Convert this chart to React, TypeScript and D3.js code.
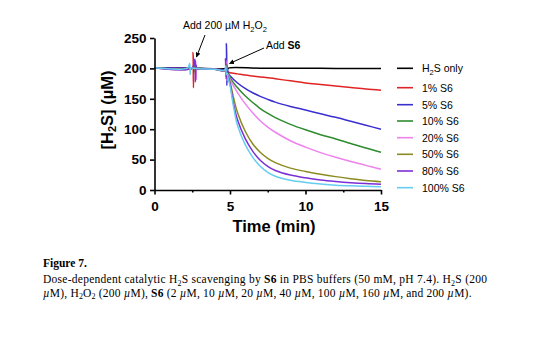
import React, { useRef, useEffect } from 'react';
import * as d3 from 'd3';

type Pt = [number, number];

const W = 554;
const H = 339;

// ---- data (time in min, [H2S] in µM) ----
const h2sOnly: Pt[] = [[0, 201], [2.5, 200.5], [4.8, 200.5], [4.82, 203], [4.85, 199], [4.9, 200.5], [7, 200.3], [10, 200.2], [12, 200], [15, 200]];
const s1: Pt[] = [[0, 201], [2, 200.5], [2.5, 200.5], [2.55, 226], [2.58, 168], [2.62, 212], [2.66, 199], [3, 199.5], [4, 198.5], [4.6, 197], [4.75, 196], [4.8, 205], [4.84, 188], [4.9, 194], [5, 193], [5.5, 191], [6, 189], [6.5, 187.5], [7, 186], [7.5, 184.5], [8, 183], [9, 179.5], [10, 176], [11, 173.5], [12, 171], [13, 168.5], [14, 166], [15, 164]];
const s5: Pt[] = [[0, 201], [2, 200.5], [2.5, 200.3], [2.6, 205], [2.63, 195], [2.7, 200], [3, 199.5], [4, 198.5], [4.6, 197], [4.72, 196], [4.76, 241], [4.79, 172], [4.83, 200], [4.88, 192], [5, 188], [5.5, 176], [6, 167], [6.5, 160], [7, 154], [7.5, 149], [8, 144.5], [9, 137.5], [10, 131.5], [11, 125.5], [12, 119.5], [13, 113], [14, 106.5], [15, 100]];
const s10: Pt[] = [[0, 201], [2.5, 200.3], [2.62, 204], [2.66, 196], [2.7, 200], [3, 199.5], [4, 198.5], [4.7, 196.5], [4.78, 208], [4.82, 185], [4.88, 192], [5, 185], [5.5, 168], [6, 155], [6.5, 144], [7, 134], [7.5, 126], [8, 119], [9, 108], [10, 99], [11, 91], [12, 84], [13, 76.5], [14, 69], [15, 62]];
const s20: Pt[] = [[0, 201], [2.5, 200.3], [2.72, 212], [2.76, 182], [2.8, 200], [3, 199.5], [4, 198.5], [4.7, 196.5], [4.76, 212], [4.8, 180], [4.87, 190], [5, 182], [5.5, 160], [6, 142], [6.5, 127], [7, 114], [7.5, 103.5], [8, 95], [9, 81], [10, 70.5], [11, 61.5], [12, 54], [13, 47], [14, 40.5], [15, 34]];
const s50: Pt[] = [[0, 201], [2.5, 200.3], [2.65, 206], [2.68, 193], [2.72, 200], [3, 199.5], [4, 198.5], [4.7, 196.5], [4.77, 206], [4.81, 184], [4.86, 188], [5, 178], [5.25, 150], [5.5, 127], [6, 97], [6.5, 76], [7, 62], [7.5, 52], [8, 45], [9, 36], [10, 30.5], [11, 26], [12, 22], [13, 18.5], [14, 15.5], [15, 13.5]];
const s80: Pt[] = [[0, 201], [2.5, 200.3], [2.68, 215], [2.71, 178], [2.75, 205], [2.8, 200], [3, 199.5], [4, 198.5], [4.65, 197], [4.7, 216], [4.74, 183], [4.8, 196], [4.86, 186], [5, 175], [5.25, 140], [5.5, 115], [6, 85], [6.5, 64], [7, 49], [7.5, 39], [8, 32], [9, 24.5], [10, 20], [11, 16.5], [12, 14], [13, 12], [14, 10.5], [15, 9.5]];
const s100: Pt[] = [[0, 201], [2.2, 201], [2.33, 208], [2.36, 190], [2.4, 201], [2.5, 200.5], [3, 199.5], [4, 198.5], [4.65, 197], [4.72, 204], [4.76, 190], [4.82, 192], [4.86, 185], [5, 172], [5.25, 135], [5.5, 106], [6, 75], [6.5, 54], [7, 39], [7.5, 29], [8, 22.5], [9, 16], [10, 12.5], [11, 10], [12, 8], [13, 6.8], [14, 6], [15, 5.5]];

const seriesData: Pt[][] = [h2sOnly, s1, s5, s10, s20, s50, s80, s100];
const legendLabels = ['H2S only', '1% S6', '5% S6', '10% S6', '20% S6', '50% S6', '80% S6', '100% S6'];
const colors = ['#000000', '#e02424', '#3a2fcf', '#2e8b2e', '#ee82ee', '#8b8b22', '#7b2fd6', '#66ccf0'];

const xTicks = [0, 5, 10, 15];
const xMinorTicks = [2.5, 7.5, 12.5];
const yTicks = [0, 50, 100, 150, 200, 250];

const x = d3.scaleLinear().domain([0, 15]).range([154.5, 381]);
const y = d3.scaleLinear().domain([0, 250]).range([190, 38]);

const line = d3.line<Pt>().x(d => x(d[0])).y(d => y(d[1])).curve(d3.curveCatmullRom.alpha(0.5));

const legendY = [68.3, 87.7, 104.7, 121, 137.7, 154.3, 171, 187.7];

export default function App() {
  const xAxisRef = useRef<SVGGElement>(null);
  const xMinorRef = useRef<SVGGElement>(null);
  const yAxisRef = useRef<SVGGElement>(null);

  useEffect(() => {
    const style = (g: any) => {
      g.attr('font-family', 'Liberation Sans, Arial, sans-serif')
        .attr('font-size', 13.5)
        .attr('font-weight', 'bold');
      g.selectAll('path.domain').attr('stroke-width', 1.6).attr('stroke', '#000');
      g.selectAll('line').attr('stroke-width', 1.6).attr('stroke', '#000');
      g.selectAll('text').attr('fill', '#000');
    };
    const gx = d3.select(xAxisRef.current!);
    gx.call(d3.axisBottom(x).tickValues(xTicks).tickSize(4.5).tickPadding(7).tickSizeOuter(0).tickFormat(d3.format('d')) as any);
    style(gx);
    const gm = d3.select(xMinorRef.current!);
    gm.call(d3.axisBottom(x).tickValues(xMinorTicks).tickSize(2.5).tickFormat(() => '') as any);
    gm.select('path.domain').remove();
    style(gm);
    const gy = d3.select(yAxisRef.current!);
    gy.call(d3.axisLeft(y).tickValues(yTicks).tickSize(4.5).tickPadding(3.5).tickSizeOuter(0).tickFormat(d3.format('d')) as any);
    style(gy);
  }, []);

  const sans = 'Liberation Sans, Arial, sans-serif';
  const serif = 'Liberation Serif, Times New Roman, serif';

  return (
    <svg width={W} height={H} style={{ position: 'absolute', left: 0, top: 0, background: '#fff' }}>
      <defs>
        <marker id="arr" viewBox="0 0 10 10" refX="9" refY="5" markerWidth="5" markerHeight="5" orient="auto">
          <path d="M0,0 L10,5 L0,10 z" fill="#000" />
        </marker>
      </defs>

      {seriesData.map((d, i) => (
        <path key={i} d={line(d) || ''} fill="none" stroke={colors[i]} strokeWidth={1.5} />
      ))}

      <g ref={xAxisRef} transform="translate(0,190)" />
      <g ref={xMinorRef} transform="translate(0,190)" />
      <g ref={yAxisRef} transform="translate(154.5,0)" />

      {/* axis titles */}
      <text x={274} y={232} textAnchor="middle" fontFamily={sans} fontWeight="bold" fontSize={16.5}>Time (min)</text>
      <text transform="translate(113,110) rotate(-90)" textAnchor="middle" fontFamily={sans} fontWeight="bold" fontSize={16.5}>
        [H<tspan fontSize={11} dy={3}>2</tspan><tspan dy={-3}>S] (µM)</tspan>
      </text>

      {/* annotations */}
      <text x={183} y={29} fontFamily={sans} fontSize={10.5}>
        Add 200 µM H<tspan fontSize={7.5} dy={2.5}>2</tspan><tspan dy={-2.5}>O</tspan><tspan fontSize={7.5} dy={2.5}>2</tspan>
      </text>
      <line x1={205} y1={35} x2={196.5} y2={57} stroke="#000" strokeWidth={1} markerEnd="url(#arr)" />
      <text x={266} y={49} fontFamily={sans} fontSize={10.5}>
        Add <tspan fontWeight="bold">S6</tspan>
      </text>
      <line x1={264} y1={48} x2={229.5} y2={63.5} stroke="#000" strokeWidth={1} markerEnd="url(#arr)" />

      {/* legend */}
      {legendLabels.map((lab, i) => (
        <g key={lab}>
          <line x1={397} x2={413} y1={legendY[i]} y2={legendY[i]} stroke={colors[i]} strokeWidth={1.6} />
          <text x={422} y={legendY[i] + 4} fontFamily={sans} fontSize={10.5}>
            {i === 0 ? (<>H<tspan fontSize={7.5} dy={2.5}>2</tspan><tspan dy={-2.5}>S only</tspan></>) : lab}
          </text>
        </g>
      ))}

      {/* caption */}
      <text x={43} y={267} fontFamily={serif} fontWeight="bold" fontSize={11.5}>Figure 7.</text>
      <text x={43} y={283} fontFamily={serif} fontSize={11.5} textLength={444} lengthAdjust="spacing">
        Dose-dependent catalytic H<tspan fontSize={8} dy={2.5}>2</tspan><tspan dy={-2.5}>S scavenging by </tspan><tspan fontWeight="bold">S6</tspan> in PBS buffers (50 mM, pH 7.4). H<tspan fontSize={8} dy={2.5}>2</tspan><tspan dy={-2.5}>S (200</tspan>
      </text>
      <text x={43} y={296.5} fontFamily={serif} fontSize={11.5} textLength={428.5} lengthAdjust="spacing">
        <tspan fontStyle="italic">µ</tspan>M), H<tspan fontSize={8} dy={2.5}>2</tspan><tspan dy={-2.5}>O</tspan><tspan fontSize={8} dy={2.5}>2</tspan><tspan dy={-2.5}> (200 </tspan><tspan fontStyle="italic">µ</tspan>M), <tspan fontWeight="bold">S6</tspan> (2 <tspan fontStyle="italic">µ</tspan>M, 10 <tspan fontStyle="italic">µ</tspan>M, 20 <tspan fontStyle="italic">µ</tspan>M, 40 <tspan fontStyle="italic">µ</tspan>M, 100 <tspan fontStyle="italic">µ</tspan>M, 160 <tspan fontStyle="italic">µ</tspan>M, and 200 <tspan fontStyle="italic">µ</tspan>M).
      </text>
    </svg>
  );
}
